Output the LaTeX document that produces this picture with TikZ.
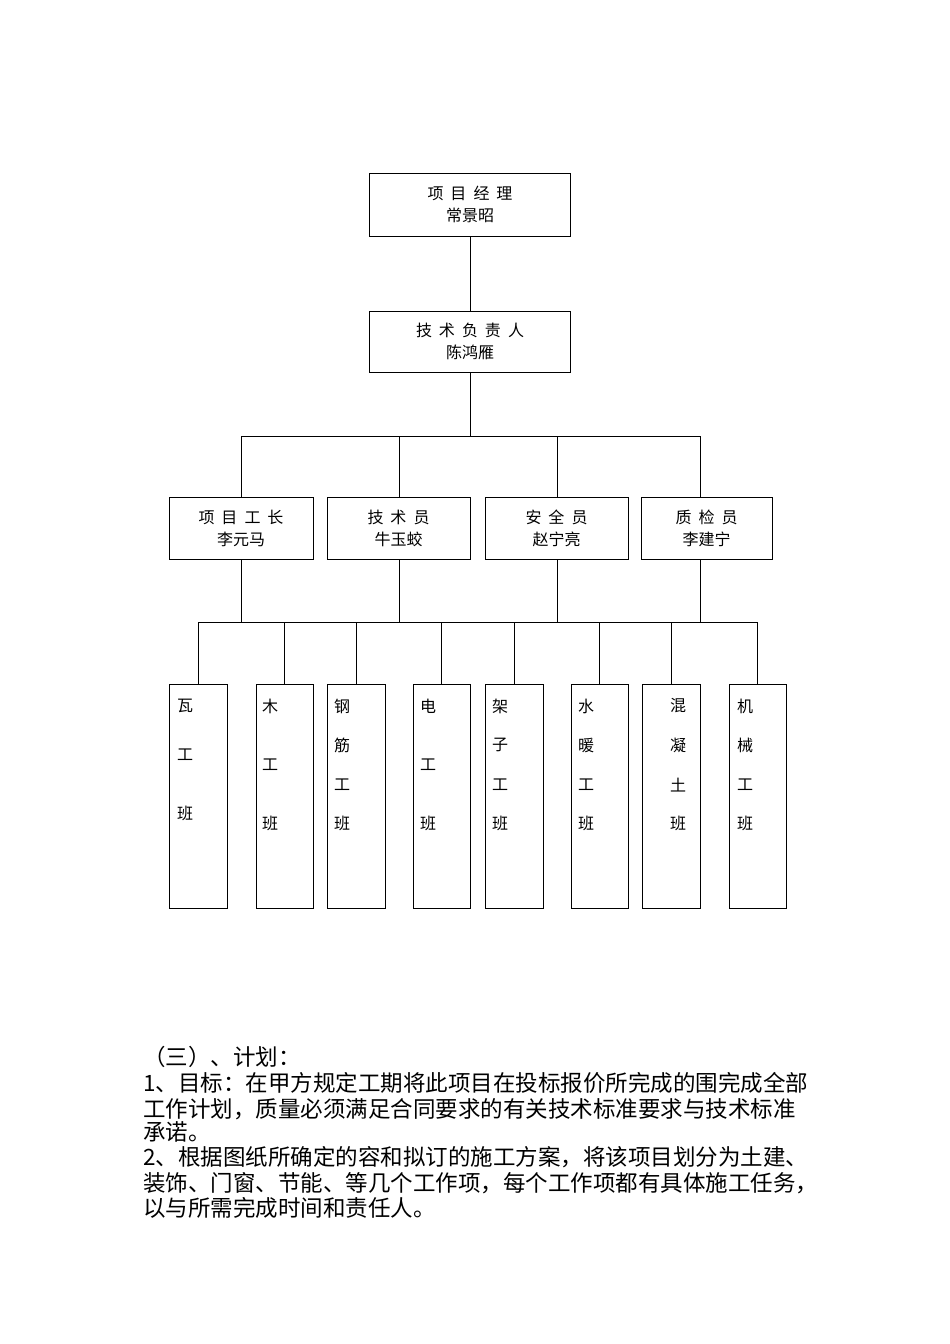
\documentclass[tikz,border=0pt]{standalone}
\usepackage{fontspec}
\setmainfont{Noto Sans CJK SC}
\newcommand{\gap}{\hspace{7pt}}
\begin{document}
\begin{tikzpicture}[x=1pt,y=-1pt,
    box/.style={draw,thick,minimum width=#1,inner sep=0},
    txt/.style={font=\fontsize{22.5}{26}\selectfont,anchor=west,inner sep=0}]
  \useasboundingbox (0,0) rectangle (950,1344);
  \tikzset{every node/.append style={font=\fontsize{16}{22}\selectfont}}
  % upper boxes
  \node[box=201pt,minimum height=63pt,align=center] (pm) at (470,204.5) {项\gap 目\gap 经\gap 理\\常景昭};
  \node[box=201pt,minimum height=61pt,align=center] (tech) at (470,341.5) {技\gap 术\gap 负\gap 责\gap 人\\陈鸿雁};
  \draw[thick] (pm) -- (tech);
  \coordinate (bar1) at (470,436);
  \draw[thick] (tech) -- (bar1);
  \draw[thick] (241,436) -- (700,436);
  % middle boxes
  \node[box=144pt,minimum height=62pt,align=center] (m1) at (241,528) {项\gap 目\gap 工\gap 长\\李元马};
  \node[box=143pt,minimum height=62pt,align=center] (m2) at (398.5,528) {技\gap 术\gap 员\\牛玉蛟};
  \node[box=143pt,minimum height=62pt,align=center] (m3) at (556.5,528) {安\gap 全\gap 员\\赵宁亮};
  \node[box=131pt,minimum height=62pt,align=center] (m4) at (706.5,528) {质\gap 检\gap 员\\李建宁};
  \foreach \n/\x in {m1/241,m2/399,m3/557,m4/700}{
    \draw[thick] (\x,436) -- (\x,497);
    \draw[thick] (\x,559) -- (\x,622);
  }
  \draw[thick] (198,622) -- (757.5,622);
  % crews
  \foreach \n/\a/\b in {c1/169/227,c2/256/313,c3/327/385,c4/413/470,c5/485/543,c6/571/628,c7/642/700,c8/729/786}{
    \node[draw,thick,inner sep=0,minimum width={\b-\a},minimum height=224pt] (\n) at ({(\a+\b)/2},796) {};
    \draw[thick] ({(\a+\b)/2},622) -- (\n.north);
  }
  \node[inner sep=0] (t1a) at (185,706) {瓦};
  \node[inner sep=0] (t1b) at (185,755) {工};
  \node[inner sep=0] (t1c) at (185,813) {班};
  \node[inner sep=0] (t2a) at (270,706) {木};
  \node[inner sep=0] (t2b) at (270,765) {工};
  \node[inner sep=0] (t2c) at (270,823) {班};
  \node[inner sep=0] (t4a) at (428,706) {电};
  \node[inner sep=0] (t4b) at (428,765) {工};
  \node[inner sep=0] (t4c) at (428,823) {班};
  \foreach \n/\x/\p/\q/\r/\s in {3/342/钢/筋/工/班,5/500/架/子/工/班,6/586/水/暖/工/班,7/678/混/凝/土/班,8/745/机/械/工/班}{
    \node[inner sep=0] (t\n a) at (\x,706) {\p};
    \node[inner sep=0] (t\n b) at (\x,745) {\q};
    \node[inner sep=0] (t\n c) at (\x,785) {\r};
    \node[inner sep=0] (t\n d) at (\x,823) {\s};
  }
  % text below
  \node[txt] (p1) at (143,1057) {（三）、计划：};
  \node[txt] (p2) at (143,1083) {1、目标：在甲方规定工期将此项目在投标报价所完成的围完成全部};
  \node[txt] (p3) at (143,1109) {工作计划，质量必须满足合同要求的有关技术标准要求与技术标准};
  \node[txt] (p4) at (143,1132) {承诺。};
  \node[txt] (p5) at (143,1157) {2、根据图纸所确定的容和拟订的施工方案，将该项目划分为土建、};
  \node[txt] (p6) at (143,1183) {装饰、门窗、节能、等几个工作项，每个工作项都有具体施工任务，};
  \node[txt] (p7) at (143,1208) {以与所需完成时间和责任人。};
\end{tikzpicture}
\end{document}
